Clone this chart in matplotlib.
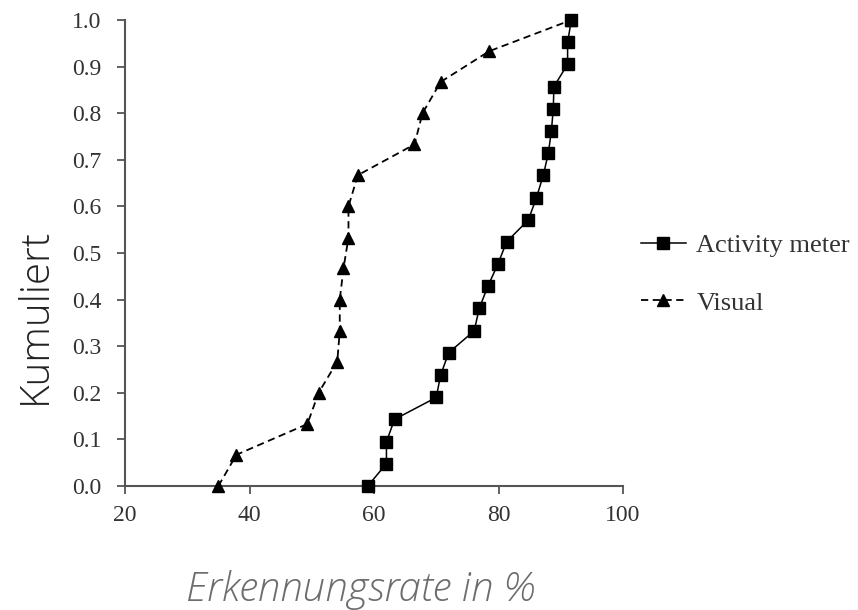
import matplotlib
matplotlib.use("Agg")
from matplotlib import pyplot as plt

# cumulative recognition rate curves
activity_x = [59.0, 62.0, 62.0, 63.3, 70.0, 70.7, 72.0, 76.1, 76.9, 78.3, 79.9,
              81.3, 84.8, 86.1, 87.2, 88.0, 88.5, 88.8, 88.9, 91.1, 91.1, 91.7]
activity_y = [0.0, 0.048, 0.095, 0.143, 0.190, 0.238, 0.286, 0.333, 0.381, 0.429, 0.476,
              0.524, 0.571, 0.619, 0.667, 0.714, 0.762, 0.810, 0.857, 0.905, 0.952, 1.0]

visual_x = [35.0, 37.9, 49.3, 51.1, 54.1, 54.5, 54.5, 55.1, 55.9, 55.9, 57.4,
            66.5, 67.8, 70.7, 78.5, 91.7]
visual_y = [0.0, 0.067, 0.133, 0.200, 0.267, 0.333, 0.400, 0.467, 0.533, 0.600, 0.667,
            0.733, 0.800, 0.867, 0.933, 1.0]

x_ticks = [20, 40, 60, 80, 100]
y_ticks = [0.0, 0.1, 0.2, 0.3, 0.4, 0.5, 0.6, 0.7, 0.8, 0.9, 1.0]

serif = "Liberation Serif"
axis_grey = "#555555"
text_grey = "#333333"

fig = plt.figure(figsize=(8.58, 6.1), dpi=100)
ax = fig.add_axes([125 / 858, 1 - 486 / 610, 498 / 858, 466 / 610])

l_act, = ax.plot(activity_x, activity_y, color="black", lw=1.1, marker="s", ms=8.5,
                 clip_on=False, zorder=4, label="Activity meter")
l_vis, = ax.plot(visual_x, visual_y, color="black", lw=1.3, ls=(0, (4, 2.5)), marker="^",
                 ms=8.5, clip_on=False, zorder=3, label="Visual")

ax.set_xlim(20, 100)
ax.set_ylim(0, 1)
ax.set_xticks(x_ticks)
ax.set_yticks(y_ticks)
ax.set_xticklabels([str(v) for v in x_ticks], fontfamily=serif, fontsize=17, color=text_grey)
ax.set_yticklabels([f"{v:.1f}" for v in y_ticks], fontfamily=serif, fontsize=17, color=text_grey)

for side in ["top", "right"]:
    ax.spines[side].set_visible(False)
for side in ["left", "bottom"]:
    ax.spines[side].set_color(axis_grey)
    ax.spines[side].set_linewidth(1.5)
ax.tick_params(direction="out", length=6, width=1.3, color=axis_grey)
ax.tick_params(axis="y", pad=11)
ax.tick_params(axis="x", pad=8)

fig.text(35 / 858, 1 - 316 / 610, "Kumuliert", rotation=90, ha="center", va="center",
         fontfamily="Open Sans", fontsize=29, fontweight="light", color="#222222")
fig.text(360 / 858, 1 - 590 / 610, "Erkennungsrate in %", ha="center", va="center",
         fontfamily="Open Sans", fontsize=29, fontweight="light", style="italic",
         color="#6d6d6d")

leg = fig.legend(handles=[l_act, l_vis], loc="center left",
                 bbox_to_anchor=(641 / 858, 1 - 274 / 610), frameon=False,
                 prop={"family": serif, "size": 19}, handlelength=1.7,
                 handletextpad=0.4, labelspacing=1.3, borderpad=0, borderaxespad=0)
for t in leg.get_texts():
    t.set_color(text_grey)

fig.savefig("out.png", dpi=100)
